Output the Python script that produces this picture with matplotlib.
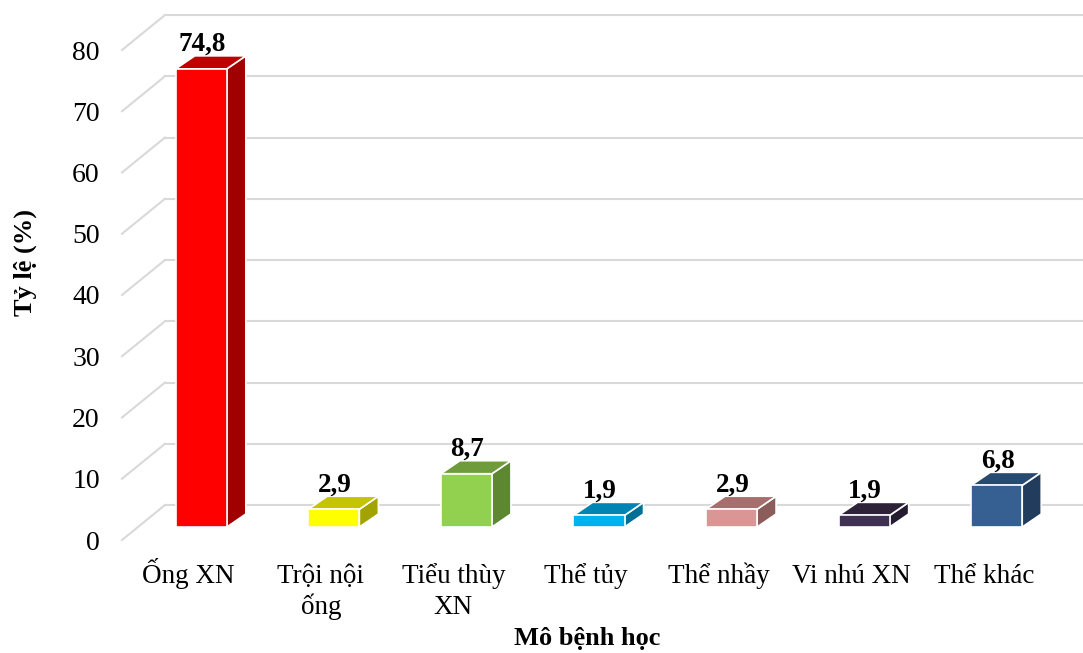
import matplotlib.pyplot as plt
from matplotlib.patches import Polygon

plt.rcParams['font.family'] = ['Liberation Serif', 'DejaVu Serif']

categories = ['Ống XN', 'Trội nội\nống', 'Tiểu thùy\nXN', 'Thể tủy',
              'Thể nhầy', 'Vi nhú XN', 'Thể khác']
values = [74.8, 2.9, 8.7, 1.9, 2.9, 1.9, 6.8]
value_labels = ['74,8', '2,9', '8,7', '1,9', '2,9', '1,9', '6,8']
yticks = [0, 10, 20, 30, 40, 50, 60, 70, 80]

# front / top / side colours of each bar
front_colors = ['#ff0000', '#ffff00', '#92d050', '#00b0f0', '#da9694', '#3f3151', '#366092']
top_colors = ['#c00000', '#c4c400', '#6e9c3c', '#0084b4', '#a66e6c', '#2d2238', '#294a70']
side_colors = ['#a00000', '#a3a300', '#5e8732', '#006f98', '#8c5c5a', '#251c2f', '#213c5c']

W, H = 1083, 653
fig = plt.figure(figsize=(W / 100, H / 100), dpi=100)
ax = fig.add_axes([122 / W, (H - 540) / H, 928 / W, 490 / H])
ax.set_xlim(-0.5, 6.5)
ax.set_ylim(0, 80)
for s in ax.spines.values():
    s.set_visible(False)

# pixels per data unit, used for the oblique depth offsets
px_x = 928 / 7
px_y = 490 / 80
DEPTH = (43, 35)       # front plane -> back wall
BAR_FRONT = (13, 13)   # front plane -> bar front face
BAR_BACK = (32, 26)    # front plane -> bar back face


def off(x, y, d):
    return (x + d[0] / px_x, y + d[1] / px_y)


grid_color = '#d9d9d9'
for v in yticks:
    # back wall gridline
    p0 = off(-0.5, v, DEPTH)
    p1 = off(6.8, v, DEPTH)
    ax.plot([p0[0], p1[0]], [p0[1], p1[1]], color=grid_color, lw=1.5,
            clip_on=False, zorder=1)
    # side wall diagonal
    ax.plot([-0.5, p0[0]], [v, p0[1]], color=grid_color, lw=1.5,
            clip_on=False, zorder=1)

bw = 0.385
for i, (v, lab) in enumerate(zip(values, value_labels)):
    x0, x1 = i - bw / 2, i + bw / 2
    front = [off(x0, 0, BAR_FRONT), off(x1, 0, BAR_FRONT),
             off(x1, v, BAR_FRONT), off(x0, v, BAR_FRONT)]
    top = [off(x0, v, BAR_FRONT), off(x1, v, BAR_FRONT),
           off(x1, v, BAR_BACK), off(x0, v, BAR_BACK)]
    side = [off(x1, 0, BAR_FRONT), off(x1, 0, BAR_BACK),
            off(x1, v, BAR_BACK), off(x1, v, BAR_FRONT)]
    for pts, c in ((side, side_colors[i]), (top, top_colors[i]), (front, front_colors[i])):
        ax.add_patch(Polygon(pts, closed=True, facecolor=c, edgecolor='white',
                             lw=1.2, zorder=3, joinstyle='miter'))
    tx, ty = off(i, v, (14, 31))
    ax.text(tx, ty, lab, ha='center', va='baseline', fontsize=19.5,
            fontweight='bold', zorder=4)

# category labels, one line at a time so the first lines share a baseline
ax.set_xticks(range(len(categories)))
ax.set_xticklabels([])
for i, cat in enumerate(categories):
    for k, line in enumerate(cat.split('\n')):
        ax.annotate(line, (i, 0), xytext=(0, -43 - 31 * k),
                    textcoords='offset pixels', ha='center', va='baseline',
                    fontsize=19.5, annotation_clip=False)

ax.set_yticks(yticks)
ax.set_yticklabels([str(t) for t in yticks], fontsize=20)
ax.tick_params(axis='both', length=0)
ax.tick_params(axis='y', pad=16)

fig.text(587 / W, 1 - 638 / H, 'Mô bệnh học', ha='center', va='center',
         fontsize=19, fontweight='bold')
fig.text(25 / W, 1 - 262 / H, 'Tỷ lệ (%)', ha='center', va='center',
         rotation=90, fontsize=19, fontweight='bold')

fig.savefig('out.png', dpi=100)
